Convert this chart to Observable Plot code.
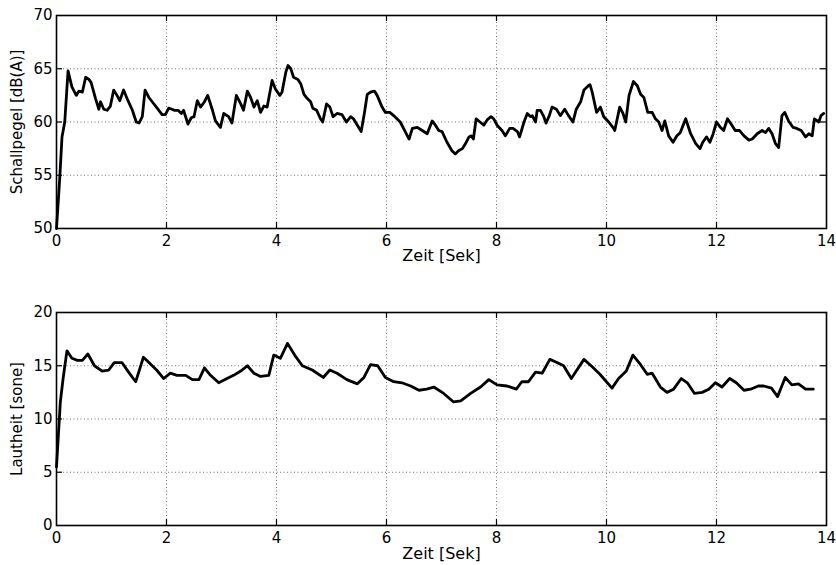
<!DOCTYPE html>
<html><head><meta charset="utf-8">
<script src="https://cdn.jsdelivr.net/npm/d3@7"></script>
<script src="https://cdn.jsdelivr.net/npm/@observablehq/plot@0.6"></script>
<style>body{margin:0;background:#fff} #chart{width:836px;height:565px} #chart svg{display:block}</style>
</head><body><div id="chart"></div><script>
const xTicks = [0, 2, 4, 6, 8, 10, 12, 14];
const xLabel = "Zeit [Sek]";

const levelLabel = "Schallpegel [dB(A)]";
const levelTicks = [50, 55, 60, 65, 70];
const levelTime = [0.00,0.06,0.10,0.15,0.21,0.28,0.36,0.41,0.47,0.53,0.59,0.63,0.71,0.77,0.80,0.86,0.92,0.98,1.04,1.10,1.15,1.22,1.30,1.38,1.45,1.50,1.56,1.61,1.68,1.74,1.83,1.92,1.98,2.04,2.10,2.14,2.21,2.27,2.31,2.39,2.45,2.50,2.56,2.62,2.69,2.75,2.83,2.89,2.98,3.04,3.13,3.19,3.27,3.35,3.40,3.47,3.53,3.59,3.65,3.71,3.77,3.83,3.92,3.98,4.06,4.10,4.17,4.21,4.26,4.31,4.39,4.44,4.50,4.56,4.62,4.66,4.73,4.80,4.84,4.91,4.97,5.03,5.10,5.19,5.27,5.35,5.40,5.47,5.54,5.60,5.65,5.71,5.78,5.83,5.92,5.98,6.06,6.13,6.19,6.25,6.31,6.41,6.47,6.56,6.65,6.74,6.83,6.89,6.95,7.01,7.10,7.19,7.25,7.31,7.38,7.44,7.50,7.54,7.58,7.63,7.70,7.77,7.83,7.90,7.95,8.01,8.10,8.16,8.24,8.30,8.38,8.42,8.50,8.56,8.62,8.65,8.71,8.74,8.80,8.86,8.90,8.96,9.01,9.09,9.16,9.24,9.31,9.39,9.45,9.53,9.59,9.67,9.70,9.74,9.82,9.89,9.95,10.04,10.13,10.15,10.24,10.30,10.35,10.41,10.49,10.56,10.62,10.68,10.75,10.83,10.89,10.95,11.01,11.06,11.13,11.21,11.28,11.34,11.44,11.53,11.62,11.70,11.75,11.82,11.88,11.94,12.00,12.07,12.13,12.20,12.28,12.34,12.42,12.50,12.59,12.65,12.74,12.83,12.89,12.95,13.01,13.07,13.13,13.19,13.24,13.31,13.39,13.46,13.54,13.62,13.68,13.74,13.78,13.86,13.90,13.95];
const levelValue = [50.0,54.8,58.6,60.0,64.8,63.3,62.5,62.9,62.8,64.2,64.0,63.7,62.2,61.2,61.9,61.2,61.1,61.5,63.0,62.5,62.0,63.0,62.0,61.1,60.0,59.9,60.5,63.0,62.3,61.9,61.3,60.7,60.7,61.3,61.2,61.1,61.1,60.8,61.1,59.8,60.4,60.5,62.0,61.4,61.9,62.5,61.2,60.1,59.5,60.8,60.5,59.9,62.5,61.7,61.1,62.9,62.3,61.4,62.0,60.9,61.5,61.4,63.9,63.1,62.5,62.8,64.7,65.3,65.0,64.2,64.0,63.6,62.6,62.2,61.9,61.3,61.1,60.3,60.0,61.7,61.4,60.5,60.8,60.7,60.0,60.5,60.3,59.7,59.1,60.9,62.6,62.8,62.9,62.5,61.4,60.9,60.9,60.6,60.3,60.0,59.4,58.4,59.4,59.5,59.2,58.9,60.1,59.7,59.2,59.1,58.1,57.3,57.0,57.3,57.5,58.0,58.6,58.7,58.4,60.3,60.0,59.7,60.2,60.5,60.3,59.7,59.2,58.7,59.4,59.4,59.1,58.6,60.0,60.8,60.5,60.6,60.0,61.1,61.1,60.5,59.9,60.6,61.4,61.2,60.6,61.2,60.6,60.0,61.2,61.9,63.0,63.4,63.5,62.8,60.9,61.4,60.5,60.0,59.4,59.2,61.4,60.8,60.0,62.5,63.8,63.4,62.6,62.3,60.9,60.9,60.3,60.0,59.2,60.1,58.7,58.1,58.7,59.0,60.3,58.9,58.0,57.5,58.1,58.6,58.1,58.9,60.0,59.5,59.2,60.3,59.7,59.2,59.2,58.7,58.3,58.4,58.9,59.2,59.0,59.4,58.9,58.0,57.6,60.6,60.9,60.1,59.5,59.4,59.2,58.6,58.9,58.7,60.3,60.0,60.6,60.8];

const loudLabel = "Lautheit [sone]";
const loudTicks = [0, 5, 10, 15, 20];
const loudTime = [0.00,0.07,0.12,0.19,0.28,0.38,0.47,0.57,0.69,0.83,0.95,1.05,1.19,1.31,1.44,1.58,1.68,1.82,1.95,2.07,2.19,2.35,2.47,2.59,2.69,2.80,2.95,3.10,3.22,3.35,3.47,3.59,3.71,3.86,3.95,4.07,4.20,4.33,4.47,4.65,4.85,4.97,5.10,5.28,5.47,5.59,5.71,5.84,5.98,6.13,6.28,6.44,6.59,6.73,6.86,7.04,7.22,7.35,7.53,7.71,7.86,8.01,8.19,8.36,8.46,8.58,8.71,8.83,8.97,9.10,9.22,9.36,9.59,9.74,9.88,10.10,10.22,10.36,10.48,10.62,10.74,10.83,10.98,11.10,11.22,11.36,11.47,11.60,11.74,11.86,11.98,12.10,12.24,12.36,12.50,12.62,12.76,12.86,13.00,13.11,13.25,13.37,13.49,13.62,13.76];
const loudValue = [5.5,11.6,13.8,16.4,15.7,15.5,15.5,16.1,15.0,14.5,14.6,15.3,15.3,14.4,13.5,15.8,15.3,14.6,13.8,14.3,14.1,14.1,13.7,13.7,14.8,14.1,13.4,13.8,14.1,14.5,15.0,14.3,14.0,14.1,16.0,15.7,17.1,16.0,15.0,14.6,13.9,14.6,14.3,13.7,13.3,13.9,15.1,15.0,13.9,13.5,13.4,13.1,12.7,12.8,13.0,12.4,11.6,11.7,12.4,13.0,13.7,13.2,13.1,12.8,13.5,13.5,14.4,14.3,15.6,15.3,15.0,13.8,15.6,14.9,14.2,12.9,13.8,14.5,16.0,15.1,14.2,14.3,13.0,12.5,12.8,13.8,13.4,12.4,12.5,12.8,13.4,13.0,13.8,13.4,12.7,12.8,13.1,13.1,12.9,12.1,13.9,13.2,13.3,12.8,12.8];

function panel({time, value, yTicks, yLabel, height, marginTop, marginBottom, labelDy}) {
  const data = time.map((t, i) => ({t, v: value[i]}));
  const plotW = 836 - 56 - 10;
  const plotH = height - marginTop - marginBottom;
  const innerX = xTicks.slice(1, -1);
  const innerY = yTicks.slice(1, -1);
  return Plot.plot({
    width: 836, height, marginLeft: 56, marginRight: 10, marginTop, marginBottom,
    style: {fontFamily: "DejaVu Sans", fontSize: "15px", color: "#000", background: "#fff"},
    x: {domain: [xTicks[0], xTicks[xTicks.length - 1]]},
    y: {domain: [yTicks[0], yTicks[yTicks.length - 1]]},
    marks: [
      Plot.gridX(innerX, {stroke: "#000", strokeOpacity: 0.55, strokeDasharray: "1,2.5"}),
      Plot.gridY(innerY, {stroke: "#000", strokeOpacity: 0.55, strokeDasharray: "1,2.5"}),
      Plot.tickX(innerX, {x: d => d, stroke: "#000", strokeWidth: 1.2, insetTop: plotH - 6}),
      Plot.tickX(innerX, {x: d => d, stroke: "#000", strokeWidth: 1.2, insetBottom: plotH - 6}),
      Plot.tickY(innerY, {y: d => d, stroke: "#000", strokeWidth: 1.2, insetRight: plotW - 6}),
      Plot.tickY(innerY, {y: d => d, stroke: "#000", strokeWidth: 1.2, insetLeft: plotW - 6}),
      Plot.line(data, {x: "t", y: "v", stroke: "#000", strokeWidth: 2.8, strokeLinejoin: "round"}),
      Plot.frame({stroke: "#000", strokeWidth: 1.6}),
      Plot.axisX(xTicks, {tickSize: 0, tickPadding: 7, label: null, fontSize: 15}),
      Plot.axisY(yTicks, {tickSize: 0, tickPadding: 4, label: null, fontSize: 15}),
      Plot.text([yLabel], {frameAnchor: "left", dx: -39, rotate: -90, textAnchor: "middle", lineAnchor: "middle", fontSize: 15, fill: "#000"}),
      Plot.text([xLabel], {frameAnchor: "bottom", dy: labelDy, textAnchor: "middle", lineAnchor: "middle", fontSize: 16, fill: "#000"})
    ]
  });
}

const chart = document.getElementById("chart");
chart.appendChild(panel({time: levelTime, value: levelValue, yTicks: levelTicks, yLabel: levelLabel, height: 290, marginTop: 15, marginBottom: 62, labelDy: 27}));
chart.appendChild(panel({time: loudTime, value: loudValue, yTicks: loudTicks, yLabel: loudLabel, height: 275, marginTop: 22, marginBottom: 40, labelDy: 28}));
</script></body></html>
